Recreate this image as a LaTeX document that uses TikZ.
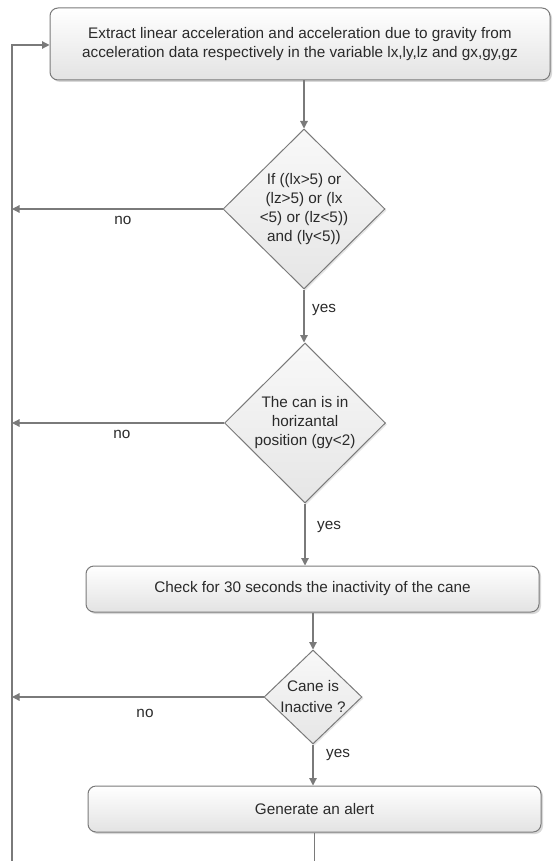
\documentclass[tikz,border=0pt]{standalone}
\usepackage{fontspec}
\setmainfont{Liberation Sans}
\usetikzlibrary{shapes.geometric,arrows.meta,shadows}
\definecolor{linegray}{HTML}{7A7A7A}
\definecolor{txtgray}{HTML}{2A2A2A}
\begin{document}
\begin{tikzpicture}[x=1pt,y=-1pt,
  font=\fontsize{15.3}{19}\selectfont, text=txtgray,
  procbox/.style={draw=linegray, line width=1pt, rounded corners=8pt,
    top color=white, bottom color=gray!22,
    drop shadow={shadow xshift=2pt,shadow yshift=-2pt,fill=gray!60,opacity=0.5},
    align=center, inner sep=0pt},
  decbox/.style={diamond, draw=linegray, line width=1pt,
    top color=gray!5, bottom color=gray!20, inner sep=0pt,
    drop shadow={shadow xshift=1.5pt,shadow yshift=-1.5pt,fill=gray!50,opacity=0.4}},
  dtext/.style={align=center, text=txtgray},
  conn/.style={draw=linegray, line width=1.2pt},
  arr/.style={conn, -{Triangle[length=7.5pt,width=7.5pt]}},
  lbl/.style={inner sep=0pt, text=txtgray}
]
\useasboundingbox (0,0) rectangle (553,861);

% process boxes
\node[procbox, minimum width=500, minimum height=72] (top) at (300,44)
  {Extract linear acceleration and acceleration due to gravity from\\
   acceleration data respectively in the variable lx,ly,lz and gx,gy,gz};
\node[procbox, minimum width=453, minimum height=46] (chk) at (312.5,589)
  {Check for 30 seconds the inactivity of the cane};
\node[procbox, minimum width=453, minimum height=46] (gen) at (314.5,809)
  {Generate an alert};

% decisions
\node[decbox, minimum width=162, minimum height=160] (d1) at (304,209) {};
\node[dtext] (t1) at (d1.center) {If ((lx>5) or\\(lz>5) or (lx\\<5) or (lz<5))\\and (ly<5))};
\node[decbox, minimum width=161, minimum height=160] (d2) at (305,423) {};
\node[dtext] (t2) at (d2.center) {The can is in\\horizantal\\position (gy<2)};
\node[decbox, minimum width=98, minimum height=94] (d3) at (313,697) {};
\node[dtext, font=\fontsize{15.3}{21}\selectfont] (t3) at (d3.center) {Cane is\\Inactive ?};

% loop coordinates
\coordinate (lb) at (12,861);
\coordinate (lt) at (12,45);
\coordinate (gb) at (314.5,861);

% main flow
\draw[arr] (d1.north |- top.south) -- (d1.north);
\draw[arr] (d1.south) -- (d1.south |- d2.north);
\draw[arr] (d2.south) -- (d2.south |- chk.north);
\draw[arr] (d3.north |- chk.south) -- (d3.north);
\draw[arr] (d3.south) -- (d3.south |- gen.north);
\draw[conn] (gen.south) -- (gb);

% no branches
\draw[arr] (d1.west) -- (d1.west -| lt);
\draw[arr] (d2.west) -- (d2.west -| lt);
\draw[arr] (d3.west) -- (d3.west -| lt);

% loop back
\draw[arr] (lb) -- (lt) -- (lt -| top.west);

% labels
\node[lbl] (no1) at (123,220) {no};
\node[lbl] (no2) at (122,434) {no};
\node[lbl] (no3) at (145,713) {no};
\node[lbl] (y1) at (324,310) {yes};
\node[lbl] (y2) at (329,527) {yes};
\node[lbl] (y3) at (338,755) {yes};
\end{tikzpicture}
\end{document}
